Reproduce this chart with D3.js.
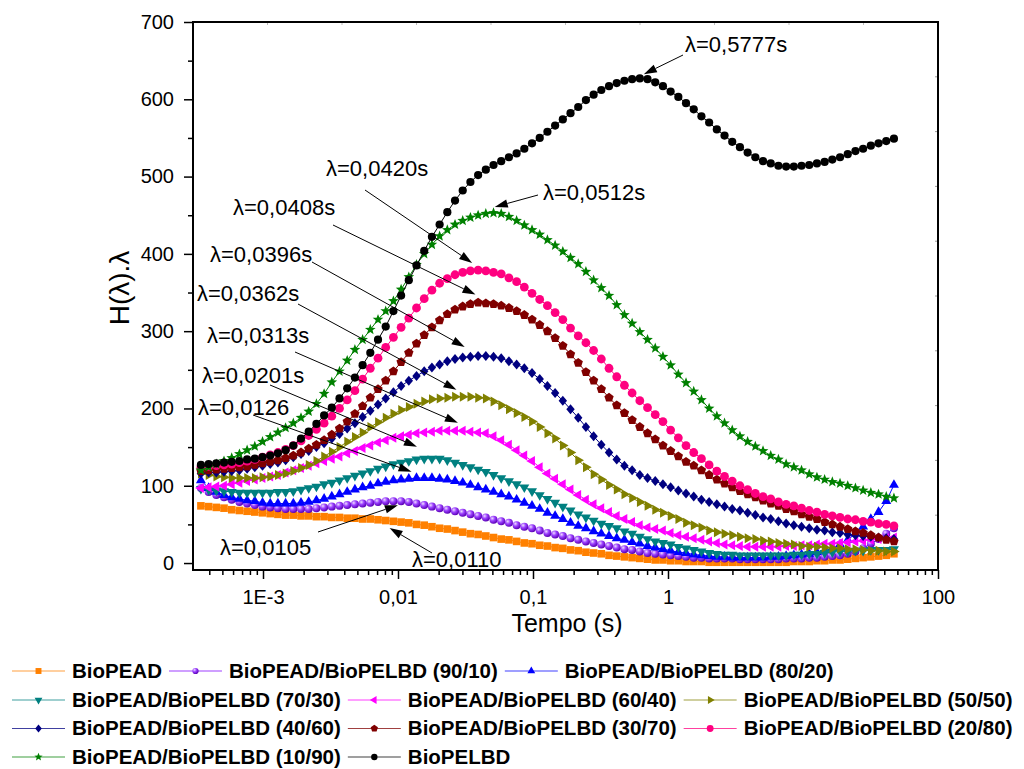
<!DOCTYPE html>
<html>
<head>
<meta charset="utf-8">
<script src="https://cdn.jsdelivr.net/npm/d3@7"></script>
<style>
  body { margin: 0; background: #ffffff; }
  text { font-family: "Liberation Sans", Arial, sans-serif; }
</style>
</head>
<body>
<svg id="chart" width="1024" height="769"></svg>
<script>
// Relaxation spectra H(λ)·λ of BioPEAD / BioPELBD blends.
// Sampling times of the spectrum, evenly spaced on a log scale (3.47E-4 s ... 48.8 s).
const times = d3.range(91).map(i => Math.pow(10, -3.46 + 0.05704 * i));

const seriesNames = [
  "BioPEAD",
  "BioPEAD/BioPELBD (90/10)",
  "BioPEAD/BioPELBD (80/20)",
  "BioPEAD/BioPELBD (70/30)",
  "BioPEAD/BioPELBD (60/40)",
  "BioPEAD/BioPELBD (50/50)",
  "BioPEAD/BioPELBD (40/60)",
  "BioPEAD/BioPELBD (30/70)",
  "BioPEAD/BioPELBD (20/80)",
  "BioPEAD/BioPELBD (10/90)",
  "BioPELBD"
];

const hBioPEAD = [
  74,73,72,71,69,68,67,66,65,64,
  63,62,62,61,61,60,60,59,59,58,
  58,57,57,56,55,54,53,52,50,49,
  47,45,44,42,40,38,37,35,33,31,
  30,28,26,25,23,22,20,19,17,16,
  14,13,12,10,9,8,7,6,5,4,
  4,3,3,2,2,2,1,1,1,1,
  1,1,1,1,1,1,1,2,2,2,
  3,3,4,4,5,6,7,8,9,10,
  12
];
const h90_10 = [
  97,92,88,85,82,79,77,75,73,72,
  71,70,70,70,70,71,72,73,74,75,
  76,77,78,79,80,80,80,79,77,75,
  73,71,69,67,65,63,61,59,56,54,
  52,49,47,45,42,39,37,35,32,30,
  28,26,24,22,20,18,17,15,13,12,
  11,10,9,8,7,7,6,6,6,6,
  5,5,5,5,5,5,6,6,6,7,
  7,8,9,10,12,15,19,25,31,38,
  45
];
const h80_20 = [
  107,97,92,88,85,83,81,80,78,77,
  77,77,77,78,79,81,83,86,89,92,
  95,98,100,103,105,107,108,109,110,110,
  110,109,108,106,104,101,98,95,92,89,
  86,82,78,74,70,65,61,57,52,48,
  45,41,38,35,32,30,27,25,22,20,
  18,16,14,13,11,10,9,8,8,7,
  7,7,7,7,8,8,9,10,11,12,
  14,16,19,24,30,38,47,57,66,80,
  101
];
const h70_30 = [
  96,95,94,93,92,91,91,91,91,91,
  92,92,93,95,97,99,102,104,107,110,
  113,116,119,122,125,128,130,132,134,135,
  135,135,133,130,127,124,121,118,114,110,
  106,102,98,93,88,83,78,73,68,63,
  59,55,51,48,45,41,38,34,31,28,
  26,24,21,19,17,15,13,12,11,11,
  10,10,10,10,10,10,10,11,11,12,
  12,13,14,15,15,16,16,17,17,17,
  18
];
const h60_40 = [
  97,98,99,100,102,104,106,108,110,112,
  114,117,120,123,126,129,132,135,138,142,
  145,149,152,156,159,162,164,166,168,169,
  170,171,171,171,171,170,169,168,164,159,
  153,146,139,132,124,116,109,102,95,88,
  82,76,71,66,61,57,53,49,46,44,
  42,39,36,34,32,30,28,26,24,23,
  22,21,21,21,21,21,22,22,23,23,
  24,25,25,26,27,28,29,30,31,32,
  33
];
const h50_50 = [
  116,114,112,111,110,110,110,110,111,112,
  114,116,119,123,127,132,138,144,150,157,
  163,169,176,182,188,193,198,202,206,209,
  212,213,214,215,215,215,214,213,209,204,
  199,194,189,183,176,168,161,152,143,133,
  124,115,108,101,95,89,84,79,74,69,
  65,61,57,52,49,46,42,40,38,36,
  34,32,31,29,28,26,25,24,22,21,
  21,20,19,19,18,18,17,16,16,15,
  15
];
const h40_60 = [
  116,117,117,118,119,120,122,124,126,128,
  130,133,137,141,145,150,155,161,167,174,
  181,189,197,205,213,221,229,236,242,248,
  253,257,261,264,266,267,268,268,267,265,
  261,257,252,246,238,229,220,210,199,188,
  176,164,153,143,134,126,120,114,110,106,
  102,98,94,90,86,82,79,76,73,70,
  68,65,62,59,57,54,51,49,47,45,
  43,42,40,39,37,36,35,34,33,32,
  31
];
const h30_70 = [
  119,120,121,122,123,124,125,127,129,131,
  133,136,139,143,148,153,159,166,174,183,
  193,203,214,225,236,248,260,272,284,295,
  305,314,322,328,332,335,337,336,335,333,
  330,326,321,315,308,300,291,281,270,259,
  247,236,225,214,204,194,185,176,168,160,
  152,145,138,131,126,120,114,108,103,98,
  93,89,85,81,77,74,70,67,63,60,
  57,53,50,47,44,41,39,36,33,30,
  28
];
const h20_80 = [
  124,125,126,127,128,130,132,134,137,140,
  143,147,152,158,165,173,181,190,200,211,
  223,238,252,265,279,292,305,317,330,342,
  353,362,368,373,376,378,379,378,376,374,
  369,364,357,349,341,333,324,315,304,294,
  285,275,264,252,241,230,220,210,201,192,
  183,172,162,152,143,135,127,119,112,106,
  100,95,90,86,83,79,76,74,71,68,
  66,63,61,59,57,56,54,53,51,50,
  48
];
const h10_90 = [
  120,124,128,132,136,141,146,151,157,163,
  169,175,181,188,196,206,219,234,248,262,
  276,289,302,315,326,339,354,370,386,400,
  412,423,431,438,443,447,450,452,453,452,
  448,443,437,431,425,418,411,403,395,387,
  377,366,356,346,334,321,310,299,289,278,
  267,256,244,233,222,211,200,190,181,172,
  164,157,151,145,139,134,128,124,120,115,
  111,108,105,103,100,97,94,91,89,86,
  84
];
const hBioPELBD = [
  127,128,129,130,131,132,134,135,137,139,
  142,146,152,161,170,180,191,201,213,226,
  240,256,272,289,306,326,346,366,385,404,
  422,438,454,469,482,493,502,509,515,520,
  525,530,536,543,550,558,566,574,582,590,
  599,606,612,617,621,624,626,627,626,622,
  617,610,603,595,587,578,570,561,553,545,
  538,531,525,520,517,514,513,513,514,515,
  517,519,522,525,529,533,536,540,543,546,
  549
];

const seriesValues = [hBioPEAD, h90_10, h80_20, h70_30, h60_40, h50_50,
                      h40_60, h30_70, h20_80, h10_90, hBioPELBD];

// Axis tick values and their printed labels
const xMajorTicks = [1e-3, 1e-2, 1e-1, 1, 10, 100];
const xTickLabels = ["1E-3", "0,01", "0,1", "1", "10", "100"];
const yMajorTicks = [0, 100, 200, 300, 400, 500, 600, 700];

// Peak annotations: relaxation time, label, annotated curve
const noteLambdas = [0.5777, 0.0512, 0.0420, 0.0408, 0.0396, 0.0362, 0.0313, 0.0201, 0.0126, 0.0105, 0.0110];
const noteTexts = ["λ=0,5777s", "λ=0,0512s", "λ=0,0420s", "λ=0,0408s", "λ=0,0396s",
                   "λ=0,0362s", "λ=0,0313s", "λ=0,0201s", "λ=0,0126", "λ=0,0105", "λ=0,0110"];
const noteSeries = [10, 9, 8, 7, 6, 5, 4, 3, 2, 1, 0];

// ---- styling ----
const colors = ["#ff8000", "#8000ff", "#0000ff", "#008080", "#ff00ff", "#808000",
                "#000080", "#800000", "#ff0080", "#008000", "#000000"];
const shapes = ["square", "sphere", "triUp", "triDown", "triLeft", "triRight",
                "diamond", "pentagon", "circleL", "star", "circle"];

// text start, arrow tail, and arrow-tip offset from the annotated point
const noteLayout = [
  {tx: 685, ty: 52,  ax: 683, ay: 55,  dx: 8,   dy: -5},
  {tx: 543, ty: 200, ax: 538, ay: 195, dx: 1,   dy: -6},
  {tx: 326, ty: 176, ax: 365, ay: 190, dx: -10, dy: -8},
  {tx: 233, ty: 215, ax: 333, ay: 225, dx: -5,  dy: -8},
  {tx: 210, ty: 262, ax: 312, ay: 262, dx: -14, dy: -9},
  {tx: 197, ty: 301, ax: 298, ay: 304, dx: -17, dy: -7},
  {tx: 207, ty: 343, ax: 295, ay: 352, dx: -7,  dy: -8},
  {tx: 202, ty: 383, ax: 270, ay: 385, dx: -22, dy: -12},
  {tx: 198, ty: 415, ax: 253, ay: 415, dx: 0,   dy: -7},
  {tx: 220, ty: 555, ax: 318, ay: 532, dx: -3,  dy: 4},
  {tx: 412, ty: 567, ax: 432, ay: 553, dx: -14, dy: 6}
];

const legendRows = [[0, 1, 2], [3, 4, 5], [6, 7, 8], [9, 10]];

const svg = d3.select("#chart");
const defs = svg.append("defs");
const grad = defs.append("radialGradient").attr("id", "sphereFill")
  .attr("cx", 0.35).attr("cy", 0.32).attr("r", 0.7);
grad.append("stop").attr("offset", 0).attr("stop-color", "#eedcff");
grad.append("stop").attr("offset", 0.45).attr("stop-color", "#9b40ff");
grad.append("stop").attr("offset", 1).attr("stop-color", "#5a00b4");

const x = d3.scaleLog().domain([3.03e-4, 100]).range([193, 938]);
const y = d3.scaleLinear().domain([-9, 700]).range([570, 22]);

// ---- marker geometry ----
function poly(pts) { return "M" + pts.map(p => p[0].toFixed(2) + "," + p[1].toFixed(2)).join("L") + "Z"; }
function circlePath(r) { return `M${r},0A${r},${r} 0 1,1 ${-r},0A${r},${r} 0 1,1 ${r},0Z`; }
function triPath(a, deg) {
  const r = a / Math.sqrt(3), t = deg * Math.PI / 180;
  const base = [[0, -r], [a / 2, r / 2], [-a / 2, r / 2]];
  return poly(base.map(([px, py]) => [px * Math.cos(t) - py * Math.sin(t), px * Math.sin(t) + py * Math.cos(t)]));
}
function shapePath(shape, k) {
  switch (shape) {
    case "square": { const s = 7.6 * k; return poly([[-s/2, -s/2], [s/2, -s/2], [s/2, s/2], [-s/2, s/2]]); }
    case "sphere": return circlePath(4.0 * k);
    case "circle": return circlePath(4.1 * k);
    case "circleL": return circlePath(4.4 * k);
    case "triUp": return triPath(10 * k, 0);
    case "triDown": return triPath(10 * k, 180);
    case "triLeft": return triPath(10 * k, -90);
    case "triRight": return triPath(10 * k, 90);
    case "diamond": { const w = 8.4 * k, h = 10 * k; return poly([[0, -h/2], [w/2, 0], [0, h/2], [-w/2, 0]]); }
    case "pentagon": {
      const r = 4.9 * k;
      return poly(d3.range(5).map(i => { const a = -Math.PI / 2 + i * 2 * Math.PI / 5; return [r * Math.cos(a), r * Math.sin(a)]; }));
    }
    case "star": {
      const R = 5.6 * k, r = 2.4 * k;
      return poly(d3.range(10).map(i => { const a = -Math.PI / 2 + i * Math.PI / 5; const rr = i % 2 ? r : R; return [rr * Math.cos(a), rr * Math.sin(a)]; }));
    }
  }
}
function fillFor(i) { return shapes[i] === "sphere" ? "url(#sphereFill)" : colors[i]; }

// ---- axes ----
const xMinor = [];
for (let e = -4; e <= 1; e++) for (let m = 2; m <= 9; m++) {
  const v = m * Math.pow(10, e);
  if (v >= 3.03e-4 && v <= 100) xMinor.push(v);
}
const yMinor = d3.range(50, 700, 100);

svg.append("g").attr("transform", "translate(0,570)")
  .call(d3.axisBottom(x).tickValues(xMinor).tickSize(5).tickFormat(""))
  .call(g => g.select(".domain").remove());
svg.append("g").attr("transform", "translate(0,570)")
  .call(d3.axisBottom(x).tickValues(xMajorTicks).tickSize(9).tickPadding(11)
        .tickFormat((d, i) => xTickLabels[i]))
  .call(g => g.select(".domain").remove())
  .call(g => g.selectAll("text").attr("font-size", 20).attr("fill", "#000")
        .attr("font-family", "Liberation Sans, Arial, sans-serif"));

svg.append("g").attr("transform", "translate(193,0)")
  .call(d3.axisLeft(y).tickValues(yMinor).tickSize(5).tickFormat(""))
  .call(g => g.select(".domain").remove());
svg.append("g").attr("transform", "translate(193,0)")
  .call(d3.axisLeft(y).tickValues(yMajorTicks).tickSize(9).tickPadding(10).tickFormat(d3.format("d")))
  .call(g => g.select(".domain").remove())
  .call(g => g.selectAll("text").attr("font-size", 20).attr("fill", "#000")
        .attr("font-family", "Liberation Sans, Arial, sans-serif"));
svg.selectAll(".tick line").attr("stroke", "#000").attr("stroke-width", 1.5);

// faint inner ticks on the top and right edges
const frac = d3.range(1, 10).map(i => i / 10);
svg.append("g").selectAll("line").data(frac).join("line")
  .attr("x1", f => 193 + f * 745).attr("x2", f => 193 + f * 745)
  .attr("y1", 22).attr("y2", 25).attr("stroke", "#bbb").attr("stroke-width", 1);
svg.append("g").selectAll("line").data(frac).join("line")
  .attr("y1", f => 22 + f * 548).attr("y2", f => 22 + f * 548)
  .attr("x1", 935).attr("x2", 938).attr("stroke", "#999").attr("stroke-width", 1);

// plot frame
svg.append("rect").attr("x", 193).attr("y", 22).attr("width", 745).attr("height", 548)
  .attr("fill", "none").attr("stroke", "#000").attr("stroke-width", 2);

// axis titles
svg.append("text").attr("x", 567).attr("y", 632).attr("text-anchor", "middle")
  .attr("font-size", 25).text("Tempo (s)");
svg.append("text").attr("transform", "translate(129,288) rotate(-90)")
  .attr("text-anchor", "middle").attr("font-size", 28).text("H(λ).λ");

// ---- series ----
const line = d3.line().x((d, i) => x(times[i])).y(d => y(d));
const plot = svg.append("g");
seriesValues.forEach((vals, si) => {
  const g = plot.append("g");
  g.append("path").attr("d", line(vals)).attr("fill", "none")
    .attr("stroke", colors[si]).attr("stroke-width", 1);
  const sp = shapePath(shapes[si], 1);
  g.selectAll("path.m").data(vals).join("path").attr("class", "m")
    .attr("d", sp)
    .attr("transform", (d, i) => `translate(${x(times[i]).toFixed(2)},${y(d).toFixed(2)})`)
    .attr("fill", fillFor(si));
});

// ---- annotations ----
const notes = svg.append("g");
noteLambdas.forEach((lam, k) => {
  const vals = seriesValues[noteSeries[k]];
  const idx = Math.round((Math.log10(lam) + 3.46) / 0.05704);
  const L = noteLayout[k];
  const tipX = x(lam) + L.dx, tipY = y(vals[idx]) + L.dy;
  const ang = Math.atan2(tipY - L.ay, tipX - L.ax);
  const hl = 13, hw = 4.2;
  const bx = tipX - hl * Math.cos(ang), by = tipY - hl * Math.sin(ang);
  notes.append("line").attr("x1", L.ax).attr("y1", L.ay).attr("x2", bx).attr("y2", by)
    .attr("stroke", "#000").attr("stroke-width", 1);
  notes.append("path").attr("d", poly([
      [tipX, tipY],
      [bx + hw * Math.sin(ang), by - hw * Math.cos(ang)],
      [bx - hw * Math.sin(ang), by + hw * Math.cos(ang)]
    ])).attr("fill", "#000");
  notes.append("text").attr("x", L.tx).attr("y", L.ty).attr("font-size", 22).text(noteTexts[k]);
});

// ---- legend ----
const legend = svg.append("g");
const rowY = [671, 700, 728.5, 757];
legendRows.forEach((row, r) => {
  let x0 = 12;
  row.forEach(si => {
    const cy = rowY[r];
    legend.append("line").attr("x1", x0).attr("x2", x0 + 53).attr("y1", cy).attr("y2", cy)
      .attr("stroke", colors[si]).attr("stroke-width", 1.2).attr("stroke-opacity", 0.75);
    legend.append("path").attr("d", shapePath(shapes[si], 0.78))
      .attr("transform", `translate(${x0 + 26.5},${cy})`).attr("fill", fillFor(si));
    const t = legend.append("text").attr("x", x0 + 60).attr("y", cy + 6.5)
      .attr("font-size", 20.5).attr("font-weight", "bold").text(seriesNames[si]);
    x0 = x0 + 60 + t.node().getComputedTextLength() + 7;
  });
});
</script>
</body>
</html>
